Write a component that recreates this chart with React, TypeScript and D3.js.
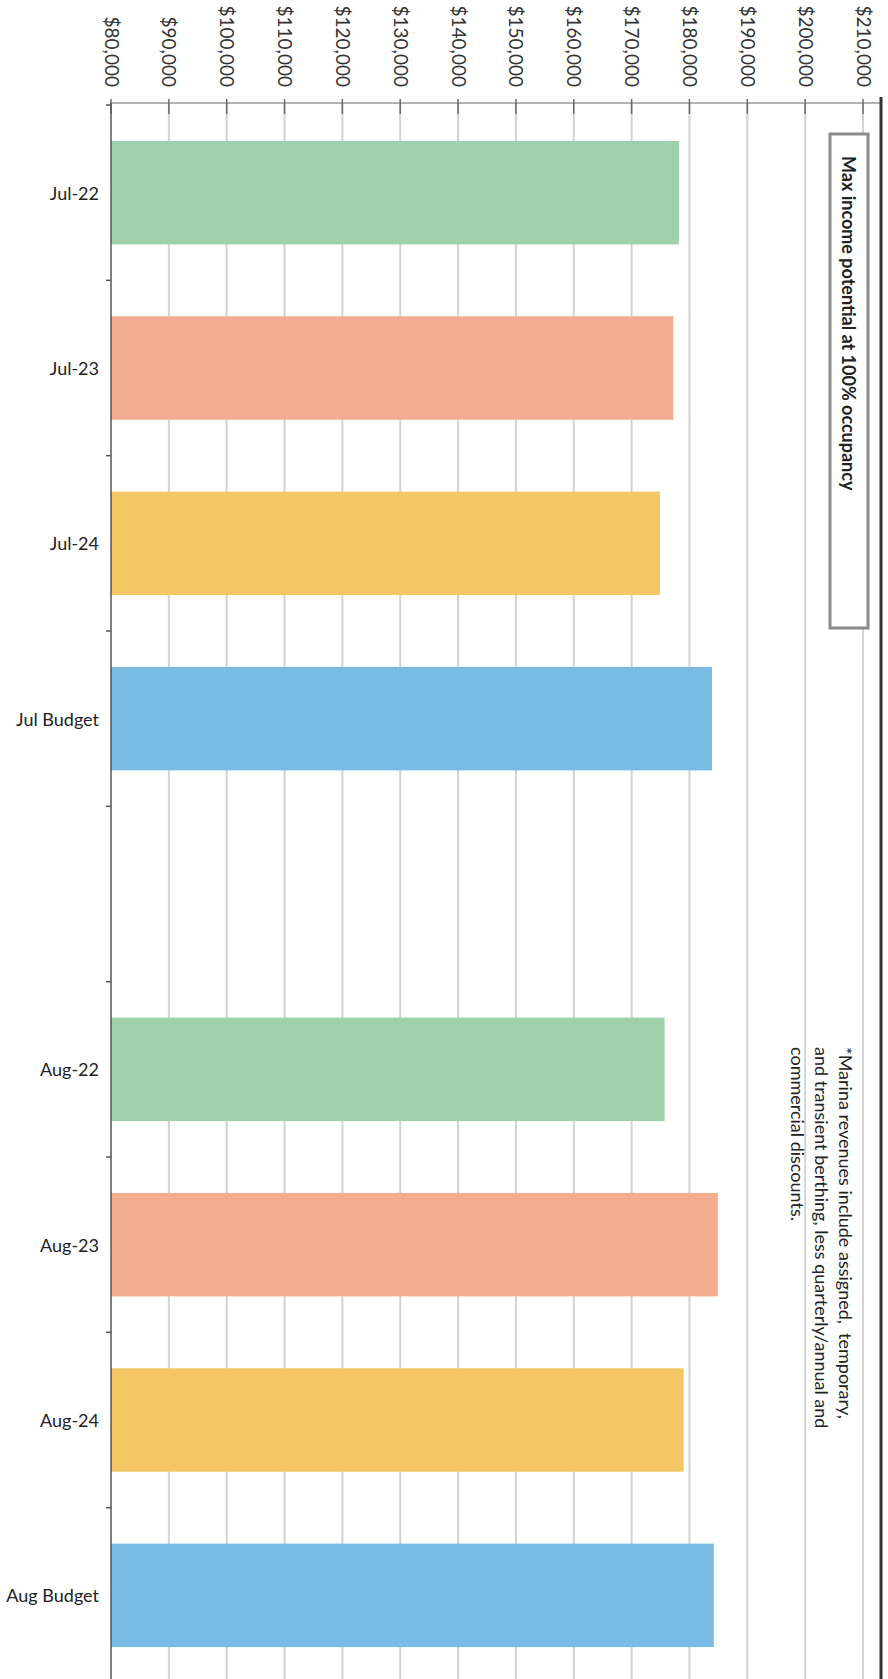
import React from "react";
import * as d3 from "d3";

const categories = ["Jul-22", "Jul-23", "Jul-24", "Jul Budget", "", "Aug-22", "Aug-23", "Aug-24", "Aug Budget"];
const values: (number | null)[] = [178200, 177200, 174900, 183900, null, 175700, 184900, 179000, 184200];
const seriesIndex = [0, 1, 2, 3, -1, 0, 1, 2, 3];
const seriesColors = ["#9fd0a9", "#f1ad8d", "#f4c765", "#78bce4"];
const tickValues = [80000, 90000, 100000, 110000, 120000, 130000, 140000, 150000, 160000, 170000, 180000, 190000, 200000, 210000];
const boxNote = "Max income potential at 100% occupancy";
const footnoteLines = [
  "*Marina revenues include assigned,  temporary,",
  "and transient berthing, less quarterly/annual and",
  "commercial discounts.",
];

const W = 888;
const H = 1679;
const FONT = "Lato, 'Open Sans', sans-serif";

export default function App() {
  const x = d3.scaleLinear().domain([80000, 210000]).range([111, 863]);
  const y = d3
    .scaleBand<string>()
    .domain(categories.map((c, i) => c + "#" + i))
    .range([105, 1683])
    .paddingInner(0.41)
    .paddingOuter(0.205);
  const keys = y.domain();
  const fmt = (v: number) => "$" + d3.format(",")(v);
  const axisY = 103;
  const step = y.step();
  const boundaries = d3.range(categories.length + 1).map((i) => 105 + i * step);

  return (
    <svg
      width={W}
      height={H}
      style={{ position: "absolute", left: 0, top: 0, background: "#fff" }}
      fontFamily={FONT}
    >
      <rect x={0} y={0} width={W} height={H} fill="#fff" />
      {/* gridlines */}
      {tickValues.slice(1).map((t) => (
        <line key={"g" + t} x1={x(t)} x2={x(t)} y1={axisY} y2={H} stroke="#d2d2d2" strokeWidth={2} />
      ))}
      {/* bars */}
      {categories.map((c, i) =>
        values[i] == null ? null : (
          <rect
            key={"b" + i}
            x={x(80000)}
            y={y(keys[i])!}
            width={x(values[i] as number) - x(80000)}
            height={y.bandwidth()}
            fill={seriesColors[seriesIndex[i]]}
          />
        )
      )}
      {/* top value axis */}
      <line x1={x(80000)} x2={881} y1={axisY} y2={axisY} stroke="#9a9a9a" strokeWidth={1.5} />
      {tickValues.map((t) => (
        <line key={"t" + t} x1={x(t)} x2={x(t)} y1={axisY - 4} y2={axisY + 11} stroke="#6a6a6a" strokeWidth={1.5} />
      ))}
      {tickValues.map((t) => (
        <text
          key={"l" + t}
          transform={`translate(${x(t) + 1},87) rotate(90)`}
          textAnchor="end"
          dominantBaseline="central"
          fontSize={19}
          fill="#333"
        >
          {fmt(t)}
        </text>
      ))}
      {/* left category axis */}
      <line x1={x(80000)} x2={x(80000)} y1={axisY} y2={H} stroke="#555" strokeWidth={1.5} />
      {boundaries.map((b, i) => (
        <line key={"ct" + i} x1={x(80000) - 5} x2={x(80000)} y1={b} y2={b} stroke="#555" strokeWidth={1.5} />
      ))}
      {categories.map((c, i) => (
        <text
          key={"c" + i}
          x={x(80000) - 12}
          y={y(keys[i])! + y.bandwidth() / 2}
          textAnchor="end"
          dominantBaseline="central"
          fontSize={18}
          fill="#222"
        >
          {c}
        </text>
      ))}
      {/* right border */}
      <line x1={881} x2={881} y1={97} y2={H} stroke="#333" strokeWidth={3} />
      {/* max income box */}
      <rect x={830} y={134} width={38} height={494} fill="#fff" stroke="#8a8a8a" strokeWidth={3} />
      <text
        transform={`translate(849,156) rotate(90)`}
        textAnchor="start"
        dominantBaseline="central"
        fontSize={18}
        fontWeight="bold"
        fill="#222"
      >
        {boxNote}
      </text>
      {/* footnote */}
      {footnoteLines.map((ln, i) => (
        <text
          key={"f" + i}
          transform={`translate(${846 - i * 24},1047) rotate(90)`}
          textAnchor="start"
          dominantBaseline="central"
          fontSize={18}
          fill="#222"
          style={{ whiteSpace: "pre" }}
        >
          {ln}
        </text>
      ))}
    </svg>
  );
}
